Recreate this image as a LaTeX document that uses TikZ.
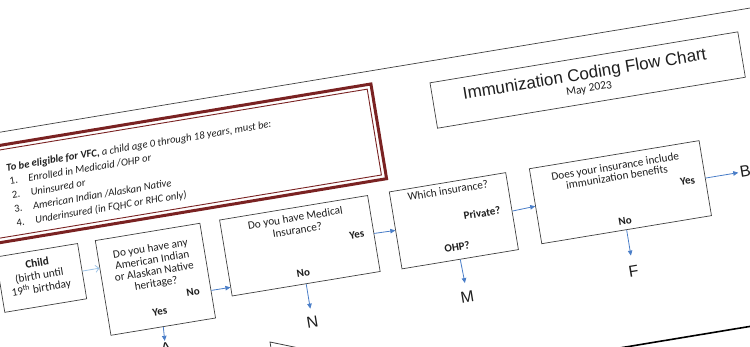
\documentclass[tikz,border=0pt]{standalone}
\usepackage{fontspec}
\setmainfont{Carlito}
\newfontfamily\arialfont{Liberation Sans}
\usetikzlibrary{arrows.meta,calc}
\definecolor{vfcred}{HTML}{7A2222}
\definecolor{arrowblue}{HTML}{4A7EC8}
\definecolor{lightarrow}{HTML}{9DC3E6}
\definecolor{boxgray}{HTML}{404040}
\definecolor{txt}{HTML}{1E1E1E}
\begin{document}
\begin{tikzpicture}[x=1pt,y=-1pt,
  box/.style={draw=boxgray,line width=0.7pt,inner sep=0pt},
  q/.style={font=\fontsize{11.3}{12}\selectfont,text=txt,align=center,inner sep=0pt},
  lab/.style={font=\bfseries\fontsize{11}{12}\selectfont,text=txt,inner sep=0pt},
  vfct/.style={font=\itshape\fontsize{10.6}{12.5}\selectfont,text=txt,inner sep=0pt,anchor=base west},
  vfcn/.style={font=\fontsize{10.6}{12.5}\selectfont,text=txt,inner sep=0pt,anchor=base west},
  letter/.style={font=\arialfont\fontsize{16}{16}\selectfont,text=txt,inner sep=0pt},
  arr/.style={draw=arrowblue,line width=0.8pt,-{Triangle[length=5pt,width=4.5pt]}},
  larr/.style={draw=lightarrow,line width=0.8pt,-{Straight Barb[length=3.5pt,width=7pt]}}]
\useasboundingbox (0,0) rectangle (750,347);
\clip (0,0) rectangle (750,347);
\begin{scope}[rotate around={9.4:(375,173)},transform shape]
  % page edges
  \draw[line width=0.7pt,draw=black!75] (-200,71.5) -- (950,71.5);
  \draw[line width=1.6pt,draw=black] (300,385.6) -- (950,385.6);
  % VFC box
  \node[draw=vfcred,line width=3pt,inner sep=0pt,minimum width=414pt,minimum height=96pt] (vfc) at (178.5,132.5) {};
  \node[draw=vfcred,line width=0.9pt,inner sep=0pt,minimum width=405pt,minimum height=87pt] (vfcin) at (178.5,132.5) {};
  \node[vfct] (v0) at (12,111) {\textbf{To be eligible for VFC,} a child age 0 through 18 years, must be:};
  \node[vfcn] (n1) at (13,125) {1.};
  \node[vfct] (t1) at (32,125) {Enrolled in Medicaid /OHP or};
  \node[vfcn] (n2) at (13,139) {2.};
  \node[vfct] (t2) at (32,139) {Uninsured or};
  \node[vfcn] (n3) at (13,153) {3.};
  \node[vfct] (t3) at (32,153) {American Indian /Alaskan Native};
  \node[vfcn] (n4) at (13,167) {4.};
  \node[vfct] (t4) at (32,167) {Underinsured (in FQHC or RHC only)};
  % title
  \node[box,minimum width=312pt,minimum height=46pt] (title) at (600,116) {};
  \node[font=\arialfont\fontsize{17}{17}\selectfont,text=txt,inner sep=0pt,anchor=base] (tt) at (598,115) {Immunization Coding Flow Chart};
  \node[font=\fontsize{11.5}{12}\selectfont,text=txt,inner sep=0pt,anchor=base] (td) at (600,128) {May 2023};
  % flow boxes
  \node[box,minimum width=83pt,minimum height=56pt] (child) at (28.5,222) {};
  \node[q,font=\fontsize{11.3}{12.8}\selectfont] (childt) at (27,220) {\textbf{Child}\\(birth until\\19\textsuperscript{th} birthday};
  \node[box,minimum width=106pt,minimum height=96pt] (aian) at (141,242) {};
  \node[q,font=\fontsize{11.3}{11.8}\selectfont] (aiant) at (141,229) {Do you have any\\American Indian\\or Alaskan Native\\heritage?};
  \node[lab] (aianno) at (176,261) {No};
  \node[lab] (aianyes) at (140,275) {Yes};
  \node[box,minimum width=150pt,minimum height=77pt] (medical) at (289,232.5) {};
  \node[q,font=\fontsize{11.3}{12.5}\selectfont] (medt) at (289,210.3) {Do you have Medical\\Insurance?};
  \node[lab] (medyes) at (347,231) {Yes};
  \node[lab] (medno) at (288,260) {No};
  \node[box,minimum width=118pt,minimum height=78pt] (which) at (445,233) {};
  \node[q] (whicht) at (444,202) {Which insurance?};
  \node[lab] (priv) at (474,230) {Private?};
  \node[lab] (ohp) at (444,259) {OHP?};
  \node[box,minimum width=172pt,minimum height=76pt] (does) at (614,232) {};
  \node[q,font=\fontsize{11.3}{11}\selectfont] (doest) at (613,211) {Does your insurance include\\immunization benefits};
  \node[lab] (doesyes) at (682,232) {Yes};
  \node[lab] (doesno) at (614,261) {No};
  % outcome letters
  \node[letter] (A) at (140,312) {A};
  \node[letter] (N) at (289,310) {N};
  \node[letter] (M) at (446,310) {M};
  \node[letter] (F) at (614,312) {F};
  \node[letter,anchor=west] (B) at (735,232) {B};
  % partial box at bottom
  \draw[boxgray,line width=0.8pt] (320,352) -- (243.8,322.6) -- (243.8,400);
  % connectors
  \draw[larr] (child.east) -- ($(aian.north west)!0.292!(aian.south west)$);
  \draw[arr] ($(aian.north east)!0.708!(aian.south east)$) -- ($(medical.north west)!0.883!(medical.south west)$);
  \draw[arr] (medical.east) -- (which.west);
  \draw[arr] (which.east) -- (does.west);
  \draw[arr,shorten >=1.5pt] (does.east) -- (B.west);
  \draw[arr,shorten >=2pt] (aian.south) -- (A.north);
  \draw[arr,shorten >=8pt] (medical.south) -- (N.north);
  \draw[arr,shorten >=8pt] (which.south) -- (M.north);
  \draw[arr,shorten >=10pt] (does.south) -- (F.north);
\end{scope}
\end{tikzpicture}
\end{document}
